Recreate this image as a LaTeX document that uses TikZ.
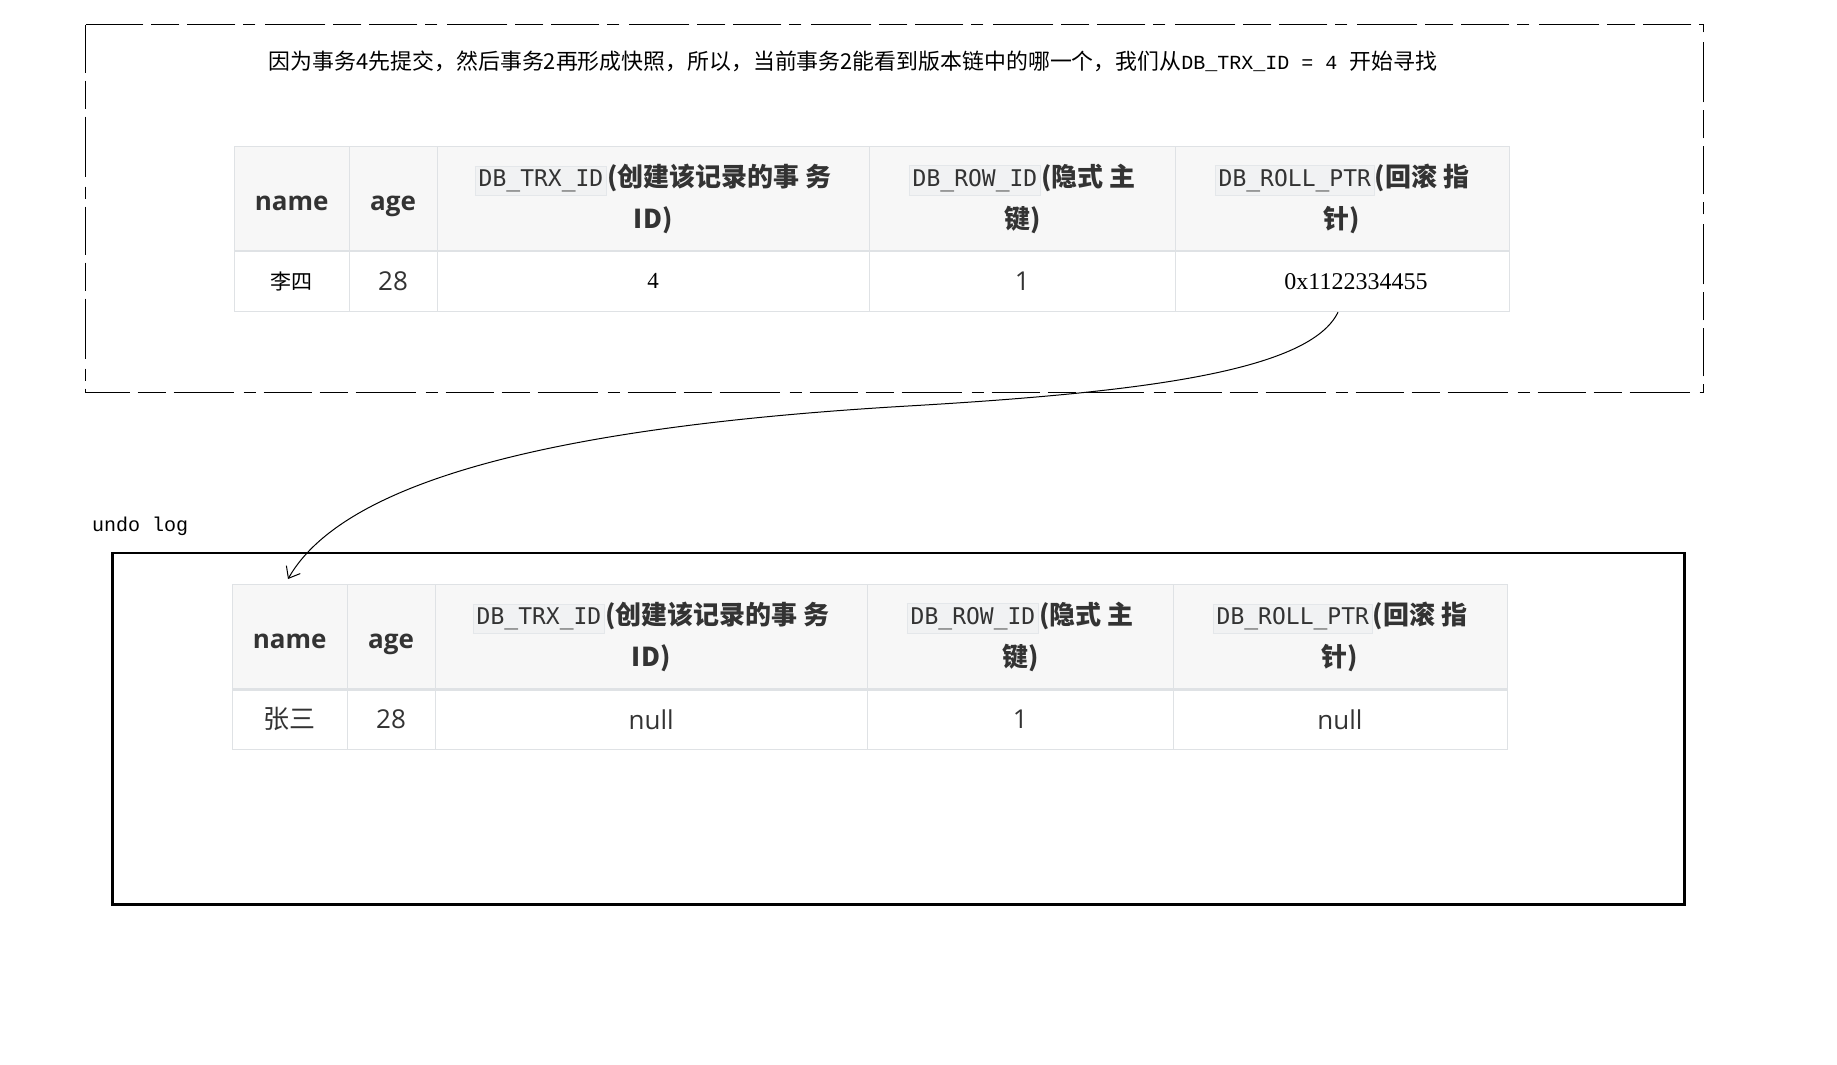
\documentclass[tikz,border=0pt]{standalone}
\usepackage{fontspec}
\setmainfont{Open Sans}
\newfontfamily\cjk{Noto Sans CJK SC}
\newfontfamily\codefont{DejaVu Sans Mono}
\newfontfamily\serifmono{Liberation Mono}
\newfontfamily\serifnum{Liberation Serif}
\usetikzlibrary{arrows.meta}

\definecolor{headbg}{HTML}{F7F7F7}
\definecolor{gridline}{HTML}{DFE2E5}
\definecolor{txt}{HTML}{333333}
\definecolor{codebg}{HTML}{F1F2F3}
\definecolor{codeline}{HTML}{E4E7EA}

\newlength\px
\setlength\px{0.5pt}
\newcommand\headfont{\fontsize{13}{21}\selectfont\bfseries}
\newcommand\datafont{\fontsize{13}{16}\selectfont}
\newcommand\code[1]{{\setlength\fboxsep{1.5pt}\setlength\fboxrule{0.4pt}\fcolorbox{codeline}{codebg}{\mdseries\codefont\fontsize{11.5}{13}\selectfont\vphantom{Dg}#1}}}

\begin{document}
\begin{tikzpicture}[
        x=\px, y=-\px,
        cell/.style={rectangle, draw=gridline, line width=0.5pt, inner sep=0pt, minimum height=61\px, text=txt, font=\datafont},
        hcell/.style={cell, fill=headbg, minimum height=104\px, align=center, font=\headfont},
        hsingle/.style={hcell, text height=12pt, text depth=0.4pt},
        wname/.style={minimum width=115\px},
        wage/.style={minimum width=88\px},
        wtrx/.style={minimum width=432\px},
        wrow/.style={minimum width=306\px},
        wroll/.style={minimum width=334\px},
        headrule/.style={draw=gridline, line width=1.3pt},
        snapframe/.style={draw=black, line width=0.6pt, dash pattern=on 24pt off 4pt on 14pt off 4pt on 30pt off 5pt on 6pt off 4pt},
        undoframe/.style={draw=black, line width=1.4pt},
        ptr/.style={draw=black, line width=0.5pt, -{Straight Barb[length=5pt, width=8pt]}}
    ]

        \useasboundingbox (0,0) rectangle (1837,1065);

        \draw[snapframe] (85.5,24.6) rectangle (1703.5,392.5);

        \node[font=\fontsize{10.95}{13}\selectfont] (title) at (853,61)
            {{\cjk 因为事务4先提交，然后事务2再形成快照，所以，当前事务2能看到版本链中的哪一个，我们从}{\serifmono\fontsize{10}{13}\selectfont DB\_TRX\_ID = 4 }{\cjk 开始寻找}};

        \node[hsingle, wname] (tname) at (291.7,198.6) {name};
        \node[hsingle, wage]  (tage)  at (393,198.6)   {age};
        \node[hcell, wtrx]  (ttrx)  at (653.2,198.6) {\code{DB\_TRX\_ID}{\cjk(创建该记录的事 务}\\{\cjk ID)}};
        \node[hcell, wrow]  (trow)  at (1022.2,198.6) {\code{DB\_ROW\_ID}{\cjk(隐式 主}\\{\cjk 键)}};
        \node[hcell, wroll] (troll) at (1342,198.6)  {\code{DB\_ROLL\_PTR}{\cjk(回滚 指}\\{\cjk 针)}};
        \draw[headrule] (tname.south west) -- (troll.south east);

        \node[cell, wname, text=black] (lisi)     at (291.7,281.2)  {\cjk\fontsize{10.5}{12}\selectfont 李四};
        \node[cell, wage]              (lisiage)  at (393,281.2)    {28};
        \node[cell, wtrx, text=black]  (lisitrx)  at (653.2,281.2)  {\serifnum\fontsize{11.5}{13}\selectfont 4};
        \node[cell, wrow]              (lisirow)  at (1022.2,281.2) {1};
        \node[cell, wroll, text=black] (lisiroll) at (1342,281.2)   {\serifnum\fontsize{12}{13}\selectfont\hspace*{28\px}0x1122334455};

        \node[anchor=west, font=\serifmono\fontsize{10}{12}\selectfont] (undolbl) at (85,526) {undo log};

        \draw[undoframe] (112.5,553) rectangle (1684.8,904.5);

        \node[hsingle, wname] (uname) at (289.7,636.8)  {name};
        \node[hsingle, wage]  (uage)  at (391,636.8)    {age};
        \node[hcell, wtrx]  (utrx)  at (651.2,636.8)  {\code{DB\_TRX\_ID}{\cjk(创建该记录的事 务}\\{\cjk ID)}};
        \node[hcell, wrow]  (urow)  at (1020.2,636.8) {\code{DB\_ROW\_ID}{\cjk(隐式 主}\\{\cjk 键)}};
        \node[hcell, wroll] (uroll) at (1340,636.8)   {\code{DB\_ROLL\_PTR}{\cjk(回滚 指}\\{\cjk 针)}};
        \draw[headrule] (uname.south west) -- (uroll.south east);

        \node[cell, wname] (zhangsan) at (289.7,719.4)  {\cjk 张三};
        \node[cell, wage]  (zsage)    at (391,719.4)    {28};
        \node[cell, wtrx]  (zstrx)    at (651.2,719.4)  {null};
        \node[cell, wrow]  (zsrow)    at (1020.2,719.4) {1};
        \node[cell, wroll] (zsroll)   at (1340,719.4)   {null};

        \coordinate (bend) at (908,406);
        \coordinate (tip) at (288,579);
        \draw[ptr] ([xshift=-4\px]lisiroll.south) .. controls (1310,370) and (1150,392) .. (bend)
            .. controls (600,424) and (350,470) .. (tip);

    \end{tikzpicture}
\end{document}
